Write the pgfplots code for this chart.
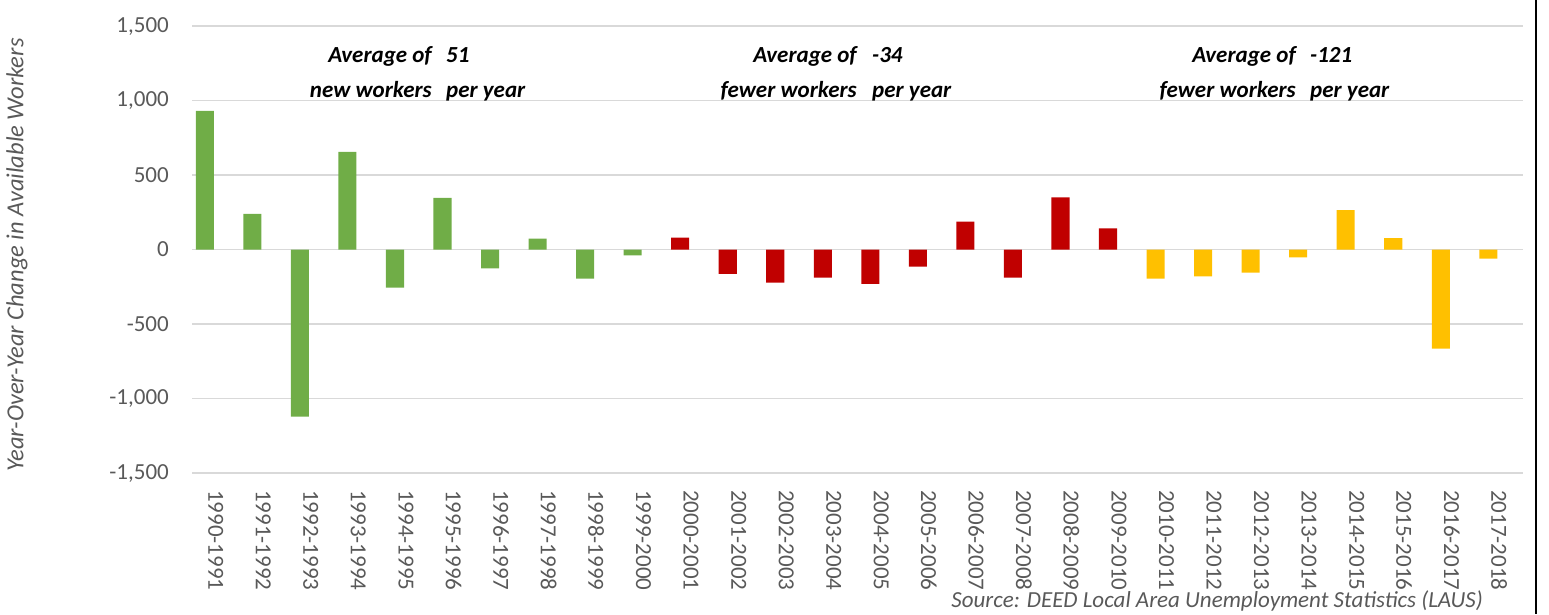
\documentclass[border=0pt]{standalone}
\usepackage{pgfplots}
\pgfplotsset{compat=1.18}
\usepackage{fontspec}
\setmainfont{Carlito}
\definecolor{grn}{HTML}{70AD47}
\definecolor{rd}{HTML}{C00000}
\definecolor{yl}{HTML}{FFC000}
\definecolor{grd}{HTML}{D9D9D9}
\definecolor{txt}{HTML}{595959}
\begin{document}
\begin{tikzpicture}[x=1pt,y=1pt]
\useasboundingbox (0pt,0pt) rectangle (1549pt,-614pt);
\begin{axis}[
  at={(192pt,-473pt)}, anchor=south west,
  scale only axis, width=1331pt, height=447pt,
  xmin=-0.5, xmax=27.5, ymin=-1500, ymax=1500,
  axis line style={draw=none},
  major tick length=0pt,
  ymajorgrids, grid style={grd, line width=1.5pt},
  /pgf/number format/assume math mode=true,
  ytick={-1500,-1000,-500,0,500,1000,1500},
  yticklabels={{-1,500},{-1,000},{-500},0,500,{1,000},{1,500}},
  xtick={0,...,27},
  xticklabels={1990-1991,1991-1992,1992-1993,1993-1994,1994-1995,1995-1996,1996-1997,1997-1998,1998-1999,1999-2000,2000-2001,2001-2002,2002-2003,2003-2004,2004-2005,2005-2006,2006-2007,2007-2008,2008-2009,2009-2010,2010-2011,2011-2012,2012-2013,2013-2014,2014-2015,2015-2016,2016-2017,2017-2018},
  ticklabel style={font=\fontsize{23}{27}\selectfont, text=txt},
  xticklabel style={rotate=-90, anchor=west, inner sep=0pt},
  yticklabel style={anchor=east, inner sep=0pt},
  xticklabel shift=17pt,
  yticklabel shift=23pt,
  clip=false,
]
\addplot[ybar, bar width=0.38, bar shift=-0.23, fill=grn, draw=none] coordinates {
(0,930) (1,240) (2,-1122) (3,655) (4,-255) (5,347) (6,-127) (7,73) (8,-195) (9,-40)};
\addplot[ybar, bar width=0.38, bar shift=-0.23, fill=rd, draw=none] coordinates {
(10,80) (11,-163) (12,-222) (13,-188) (14,-230) (15,-115) (16,187) (17,-188) (18,350) (19,142)};
\addplot[ybar, bar width=0.38, bar shift=-0.23, fill=yl, draw=none] coordinates {
(20,-195) (21,-181) (22,-155) (23,-52) (24,265) (25,76) (26,-666) (27,-61)};
\end{axis}
% annotations
\begin{scope}[every node/.style={font=\fontsize{23}{27}\selectfont\bfseries\itshape, inner sep=0pt}]
\node[anchor=base east] at (432pt,-62pt) {Average of};
\node[anchor=base west] at (446pt,-62pt) {51};
\node[anchor=base east] at (432pt,-97pt) {new workers};
\node[anchor=base west] at (446pt,-97pt) {per year};
\node[anchor=base east] at (857pt,-62pt) {Average of};
\node[anchor=base west] at (872pt,-62pt) {-34};
\node[anchor=base east] at (857pt,-97pt) {fewer workers};
\node[anchor=base west] at (872pt,-97pt) {per year};
\node[anchor=base east] at (1296pt,-62pt) {Average of};
\node[anchor=base west] at (1310pt,-62pt) {-121};
\node[anchor=base east] at (1296pt,-97pt) {fewer workers};
\node[anchor=base west] at (1310pt,-97pt) {per year};
\end{scope}
\node[rotate=90, text=txt, font=\fontsize{24.5}{28}\selectfont\itshape, inner sep=0pt] at (17pt,-255pt) {Year-Over-Year Change in Available Workers};
\node[anchor=base east, text=txt, font=\fontsize{23}{27}\selectfont\itshape, inner sep=0pt] at (1483pt,-607pt) {Source: DEED Local Area Unemployment Statistics (LAUS)};
\draw[line width=2.5pt] (1536pt,0pt) -- (1536pt,-614pt);
\end{tikzpicture}
\end{document}
